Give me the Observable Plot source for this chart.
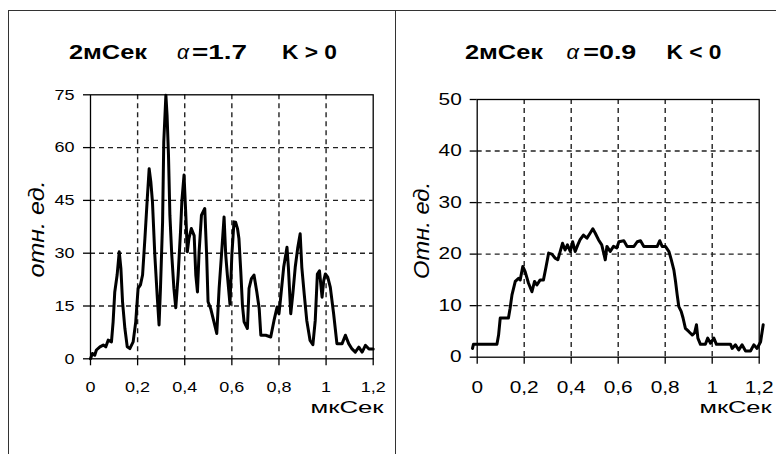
<!DOCTYPE html>
<html><head><meta charset="utf-8">
<script src="https://cdn.jsdelivr.net/npm/d3@7"></script>
<script src="https://cdn.jsdelivr.net/npm/@observablehq/plot@0.6"></script>
<style>
body{margin:0;background:#fff;}
#wrap{position:relative;width:776px;height:454px;overflow:hidden;background:#fff;}
#wrap svg{position:absolute;top:0;}
.b{position:absolute;border-color:#333;border-style:solid;border-width:0;}
</style></head><body>
<div id="wrap">
<div class="b" style="left:8px;top:10px;width:386px;height:460px;border-top-width:1.5px;border-left-width:1.5px;border-right-width:1.5px"></div>
<div class="b" style="left:396px;top:10px;width:400px;height:460px;border-top-width:1.5px"></div>
</div>
<script>
// ---- data ----
const xTicks = [0, 0.2, 0.4, 0.6, 0.8, 1, 1.2];
const xTickLabels = ["0", "0,2", "0,4", "0,6", "0,8", "1", "1,2"];
const xGridVals = [0.2, 0.4, 0.6, 0.8, 1];
const leftYTicks = [0, 15, 30, 45, 60, 75];
const leftYGrid = [15, 30, 45, 60];
const rightYTicks = [0, 10, 20, 30, 40, 50];
const rightYGrid = [10, 20, 30, 40];

const leftT = [0, 0.008, 0.018, 0.025, 0.04, 0.054, 0.065, 0.075, 0.089, 0.096, 0.103, 0.113, 0.122, 0.129, 0.136, 0.146, 0.156, 0.167, 0.181, 0.192, 0.202, 0.212, 0.221, 0.231, 0.241, 0.249, 0.256, 0.263, 0.273, 0.283, 0.291, 0.297, 0.306, 0.311, 0.32, 0.325, 0.331, 0.337, 0.345, 0.354, 0.362, 0.372, 0.382, 0.388, 0.397, 0.404, 0.411, 0.418, 0.428, 0.44, 0.447, 0.454, 0.461, 0.471, 0.485, 0.493, 0.499, 0.51, 0.524, 0.536, 0.546, 0.556, 0.567, 0.574, 0.581, 0.592, 0.6, 0.609, 0.616, 0.624, 0.63, 0.638, 0.645, 0.652, 0.666, 0.673, 0.683, 0.694, 0.706, 0.716, 0.723, 0.744, 0.765, 0.779, 0.792, 0.8, 0.806, 0.82, 0.834, 0.84, 0.85, 0.859, 0.869, 0.88, 0.89, 0.897, 0.907, 0.918, 0.932, 0.944, 0.954, 0.963, 0.972, 0.983, 0.99, 0.997, 1.007, 1.018, 1.032, 1.046, 1.068, 1.082, 1.096, 1.11, 1.124, 1.139, 1.153, 1.167, 1.182, 1.2];
const leftV = [0, 1.5, 1, 2.5, 3.4, 3.9, 3.4, 5.3, 4.8, 10.5, 19, 23.8, 30.4, 25.7, 16.2, 8.6, 3.4, 2.9, 4.8, 10.5, 20, 21, 23.8, 34.2, 45.5, 54, 50.3, 44.6, 29.5, 18, 9.6, 20, 38.9, 61.6, 74.9, 69.2, 57.9, 40.8, 29.5, 20, 14.5, 23.8, 36, 45, 52.2, 41.8, 30.4, 34.2, 37, 35, 23.8, 19, 30.4, 40.8, 42.7, 29.5, 16.2, 14.3, 10.5, 7.2, 20, 29.5, 40.3, 29.5, 23.8, 15.5, 29.5, 38.9, 38.8, 37, 34.2, 24.7, 15.2, 10.5, 8.6, 20, 22.8, 23.8, 19, 14.3, 6.7, 6.7, 6.2, 10.9, 14.7, 12.8, 16.6, 26, 31.7, 26, 12.8, 18.5, 26, 31.7, 35.5, 26, 18.5, 10.9, 5.2, 4, 10.9, 24.1, 25, 17.5, 22.2, 24.1, 23.2, 20.3, 12.8, 4.3, 4.3, 6.7, 4.3, 2.8, 1.9, 3.3, 1.9, 3.8, 2.8, 2.8];

const rightT = [-0.02, -0.016, 0.084, 0.091, 0.098, 0.133, 0.14, 0.148, 0.162, 0.176, 0.183, 0.194, 0.204, 0.218, 0.233, 0.244, 0.254, 0.268, 0.282, 0.292, 0.304, 0.318, 0.332, 0.343, 0.353, 0.363, 0.374, 0.384, 0.396, 0.406, 0.417, 0.428, 0.438, 0.452, 0.467, 0.481, 0.492, 0.502, 0.516, 0.53, 0.545, 0.552, 0.566, 0.58, 0.594, 0.603, 0.624, 0.638, 0.667, 0.681, 0.695, 0.709, 0.766, 0.777, 0.787, 0.801, 0.816, 0.826, 0.837, 0.844, 0.851, 0.858, 0.868, 0.876, 0.886, 0.9, 0.915, 0.925, 0.933, 0.939, 0.95, 0.971, 0.981, 0.993, 1.007, 1.018, 1.078, 1.085, 1.099, 1.113, 1.127, 1.142, 1.163, 1.177, 1.191, 1.206, 1.217];
const rightV = [1.7, 2.5, 2.5, 4.3, 7.6, 7.6, 9.5, 12.1, 14.7, 15.3, 15, 17.6, 16.6, 14.4, 12.7, 14.7, 14, 15, 15, 17.3, 20.2, 20, 19.2, 18.9, 20.5, 22.1, 20.8, 21.8, 20.5, 22.4, 20.5, 21.8, 22.8, 23.7, 23.1, 24.1, 24.9, 24.1, 22.8, 21.8, 18.9, 21.5, 20.5, 21.5, 21.2, 22.4, 22.6, 21.5, 21.5, 22.4, 22.6, 21.5, 21.5, 22.6, 21.5, 21.5, 20.5, 18.9, 16.9, 14.7, 12.1, 9.8, 8.9, 7.6, 5.6, 5, 4.3, 4.7, 6.3, 3.7, 2.5, 2.5, 3.7, 2.7, 3.7, 2.5, 2.5, 1.7, 2.4, 1.4, 2.4, 1.2, 1.2, 2.4, 1.7, 3, 6.3];

const leftData = leftT.map((t, i) => ({t, v: leftV[i]}));
const rightData = rightT.map((t, i) => ({t, v: rightV[i]}));

// ---- panel builder ----
const FONT = '"Liberation Sans", Arial, sans-serif';
function panel(cfg) {
  const {data, yDomain, yTicks, yGrid, width, ml, mr, mt, mb, tickFont, xPad, yPad, texts, ylabel} = cfg;
  const marks = [
    Plot.gridX(xGridVals, {stroke: "#222", strokeOpacity: 1, strokeWidth: 1.4, strokeDasharray: "5,4"}),
    Plot.gridY(yGrid, {stroke: "#222", strokeOpacity: 1, strokeWidth: 1.4, strokeDasharray: "5,4"}),
    Plot.frame({stroke: "#000", strokeWidth: 1.3}),
    Plot.axisX(xTicks, {tickSize: 7, tickPadding: xPad, fontSize: tickFont, label: null, strokeWidth: 1.3,
      tickFormat: d => xTickLabels[xTicks.indexOf(d)]}),
    Plot.axisY(yTicks, {tickSize: 7, tickPadding: yPad, fontSize: tickFont, label: null, strokeWidth: 1.3}),
    Plot.line(data, {x: "t", y: "v", stroke: "#000", strokeWidth: 3, strokeLinejoin: "round"})
  ];
  for (const tx of texts) {
    marks.push(Plot.text([tx.s], {text: d => d, frameAnchor: "top-left", dx: tx.cx - ml, dy: tx.by - mt,
      textAnchor: "middle", lineAnchor: "bottom", fontSize: tx.fs, fontWeight: tx.fw || "normal",
      fontStyle: tx.it ? "italic" : "normal", fill: "#000"}));
  }
  marks.push(Plot.text([ylabel.s], {text: d => d, frameAnchor: "left", dx: ylabel.bx - ml, dy: ylabel.cy - (mt + (454 - mt - mb) / 2),
    rotate: -90, textAnchor: "middle", lineAnchor: "bottom", fontSize: ylabel.fs, fontStyle: "italic", fill: "#000"}));
  return Plot.plot({
    width, height: 454, marginLeft: ml, marginRight: mr, marginTop: mt, marginBottom: mb,
    x: {domain: [0, 1.2], label: null},
    y: {domain: yDomain, label: null},
    style: {fontFamily: FONT, background: "transparent", overflow: "visible", color: "#000"},
    marks
  });
}

function stretch(svg, tickScale, texts, ylabel) {
  const targets = {};
  for (const t of texts) targets[t.s] = t.w;
  targets[ylabel.s] = ylabel.w;
  d3.select(svg).selectAll('g[aria-label="x-axis tick label"] text, g[aria-label="y-axis tick label"] text').each(function () {
    const w = this.getComputedTextLength();
    this.setAttribute("textLength", w * tickScale);
    this.setAttribute("lengthAdjust", "spacingAndGlyphs");
  });
  d3.select(svg).selectAll('g[aria-label="text"] text').each(function () {
    const w = targets[this.textContent];
    if (w) { this.setAttribute("textLength", w); this.setAttribute("lengthAdjust", "spacingAndGlyphs"); }
  });
}

const wrap = document.getElementById("wrap");

const leftTexts = [
  {s: "2мСек", cx: 107.5, by: 58, fs: 20, fw: "bold", w: 78},
  {s: "α", cx: 182.5, by: 58, fs: 20, it: true, w: 12},
  {s: "=1.7", cx: 219, by: 58, fs: 20, fw: "bold", w: 55},
  {s: "K > 0", cx: 309, by: 58, fs: 20, fw: "bold", w: 55},
  {s: "мкСек", cx: 346.5, by: 412, fs: 17, w: 73}
];
const leftYL = {s: "отн. ед.", bx: 43, cy: 228.5, fs: 22, w: 97};
const left = panel({data: leftData, yDomain: [0, 75], yTicks: leftYTicks, yGrid: leftYGrid, width: 386,
  ml: 90, mr: 13.3, mt: 94.3, mb: 95.7, tickFont: 15, xPad: 16, yPad: 9, texts: leftTexts, ylabel: leftYL});
left.style.left = "0px";
wrap.appendChild(left);
stretch(left, 1.2, leftTexts, leftYL);

const rightTexts = [
  {s: "2мСек", cx: 503.5 - 386, by: 58, fs: 20, fw: "bold", w: 78},
  {s: "α", cx: 572.3 - 386, by: 58, fs: 20, it: true, w: 12.5},
  {s: "=0.9", cx: 609.3 - 386, by: 58, fs: 20, fw: "bold", w: 53},
  {s: "K < 0", cx: 693.5 - 386, by: 58, fs: 20, fw: "bold", w: 55},
  {s: "мкСек", cx: 735 - 386, by: 412, fs: 17, w: 72}
];
const rightYL = {s: "Отн. ед.", bx: 428 - 386, cy: 230, fs: 22, w: 97};
const right = panel({data: rightData, yDomain: [0, 50], yTicks: rightYTicks, yGrid: rightYGrid, width: 390,
  ml: 90.7, mr: 17.3, mt: 99, mb: 97.3, tickFont: 16, xPad: 17, yPad: 8.5, texts: rightTexts, ylabel: rightYL});
right.style.left = "386px";
wrap.appendChild(right);
stretch(right, 1.3, rightTexts, rightYL);
</script>
</body></html>
